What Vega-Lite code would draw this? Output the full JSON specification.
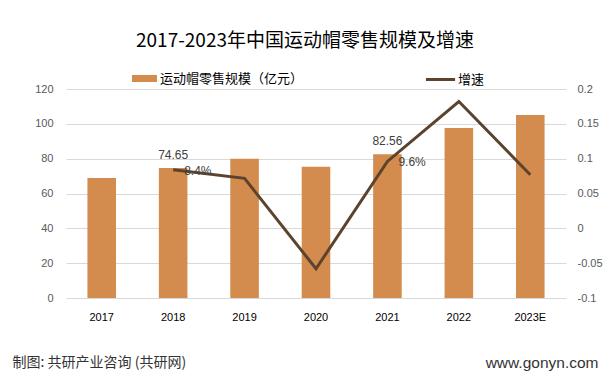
{
  "$schema": "https://vega.github.io/schema/vega-lite/v6.json",
  "width": 500,
  "height": 209,
  "autosize": {"type": "none"},
  "padding": {"left": 66, "top": 89, "right": 46, "bottom": 86},
  "background": "white",
  "title": {
    "text": "2017-2023年中国运动帽零售规模及增速",
    "font": "Noto Sans CJK SC",
    "fontSize": 19,
    "fontWeight": "normal",
    "color": "#000000",
    "anchor": "middle",
    "frame": "group",
    "dx": -11,
    "offset": 12
  },
  "data": {
    "values": [
      {"year": "2017", "scale": 68.87, "growth": null, "scaleLabel": "", "growthLabel": ""},
      {"year": "2018", "scale": 74.65, "growth": 0.084, "scaleLabel": "74.65", "growthLabel": "8.4%"},
      {"year": "2019", "scale": 80.0, "growth": 0.0717, "scaleLabel": "", "growthLabel": ""},
      {"year": "2020", "scale": 75.33, "growth": -0.058, "scaleLabel": "", "growthLabel": ""},
      {"year": "2021", "scale": 82.56, "growth": 0.096, "scaleLabel": "82.56", "growthLabel": "9.6%"},
      {"year": "2022", "scale": 97.6, "growth": 0.182, "scaleLabel": "", "growthLabel": ""},
      {"year": "2023E", "scale": 105.1, "growth": 0.077, "scaleLabel": "", "growthLabel": ""}
    ]
  },
  "encoding": {
    "x": {
      "field": "year",
      "type": "ordinal",
      "sort": null,
      "scale": {"paddingInner": 0.6, "paddingOuter": 0.3},
      "axis": {
        "title": "制图: 共研产业咨询 (共研网)",
        "titleFont": "Noto Sans CJK SC",
        "titleFontSize": 14,
        "titleFontWeight": "normal",
        "titleColor": "#333333",
        "titleAnchor": "start",
        "titleAlign": "left",
        "titleBaseline": "middle",
        "titleX": -54,
        "titleY": 64,
        "labelAngle": 0,
        "labelFont": "Liberation Sans",
        "labelFontSize": 11,
        "labelColor": "#000000",
        "labelPadding": 13,
        "ticks": false,
        "domain": false,
        "grid": false
      }
    }
  },
  "layer": [
    {
      "mark": {"type": "bar", "color": "#D38B4E"},
      "encoding": {
        "y": {
          "field": "scale",
          "type": "quantitative",
          "scale": {"domain": [0, 120]},
          "axis": {
            "title": null,
            "values": [0, 20, 40, 60, 80, 100, 120],
            "labelFont": "Liberation Sans",
            "labelFontSize": 11,
            "labelColor": "#595959",
            "labelPadding": 13,
            "ticks": false,
            "domain": false,
            "gridColor": "#D9D9D9",
            "gridWidth": 1
          }
        },
        "fill": {
          "datum": "运动帽零售规模（亿元）",
          "type": "nominal",
          "scale": {"range": ["#D38B4E"]},
          "legend": {
            "orient": "none",
            "legendX": 65,
            "legendY": -24,
            "title": null,
            "symbolType": "M-1,-0.28L1,-0.28L1,0.28L-1,0.28Z",
            "symbolSize": 625,
            "labelFont": "Noto Sans CJK SC",
            "labelFontSize": 13,
            "labelColor": "#000000",
            "labelOffset": 2
          }
        }
      }
    },
    {
      "mark": {"type": "text", "font": "Liberation Sans", "fontSize": 12, "color": "#404040", "baseline": "bottom", "dy": -6},
      "encoding": {
        "y": {"field": "scale", "type": "quantitative", "scale": {"domain": [0, 120]}, "axis": null},
        "text": {"field": "scaleLabel"}
      }
    },
    {
      "mark": {"type": "line", "color": "#5C432D", "strokeWidth": 3},
      "encoding": {
        "y": {
          "field": "growth",
          "type": "quantitative",
          "scale": {"domain": [-0.1, 0.2]},
          "axis": {
            "orient": "right",
            "title": "www.gonyn.com",
            "titleFont": "Liberation Sans",
            "titleFontSize": 15.5,
            "titleFontWeight": "normal",
            "titleColor": "#333333",
            "titleAngle": 0,
            "titleAlign": "right",
            "titleBaseline": "middle",
            "titleX": 32,
            "titleY": 273,
            "values": [-0.1, -0.05, 0, 0.05, 0.1, 0.15, 0.2],
            "labelExpr": "'' + datum.value",
            "labelFont": "Liberation Sans",
            "labelFontSize": 11,
            "labelColor": "#595959",
            "labelPadding": 11,
            "labelAlign": "left",
            "ticks": false,
            "domain": false,
            "grid": false
          }
        },
        "stroke": {
          "datum": "增速",
          "type": "nominal",
          "scale": {"range": ["#5C432D"]},
          "legend": {
            "orient": "none",
            "legendX": 358,
            "legendY": -26,
            "title": null,
            "symbolType": "stroke",
            "symbolStrokeWidth": 3,
            "symbolSize": 850,
            "labelFont": "Noto Sans CJK SC",
            "labelFontSize": 13,
            "labelColor": "#000000",
            "labelOffset": 1
          }
        }
      }
    },
    {
      "mark": {"type": "text", "font": "Liberation Sans", "fontSize": 12, "color": "#404040", "align": "left", "baseline": "middle", "dx": 11, "dy": 1},
      "encoding": {
        "y": {"field": "growth", "type": "quantitative", "scale": {"domain": [-0.1, 0.2]}, "axis": null},
        "text": {"field": "growthLabel"}
      }
    }
  ],
  "resolve": {"scale": {"y": "independent", "fill": "independent", "stroke": "independent"}},
  "config": {"view": {"stroke": null}}
}
